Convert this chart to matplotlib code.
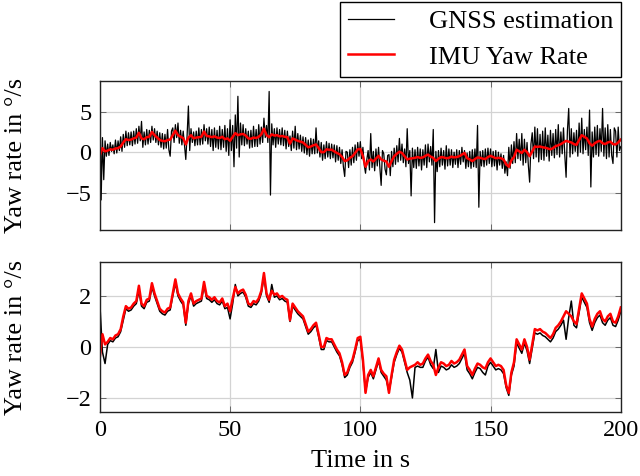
import numpy as np
import matplotlib
matplotlib.use('Agg')
import matplotlib.pyplot as plt

plt.rcParams['font.family'] = ['Liberation Serif', 'DejaVu Serif']

# IMU yaw rate, 1 s steps (same signal in both panels)
t_imu = np.arange(0, 201, 1)
imu = [-0.4, 0.5, 0.1, 0.2, 0.35, 0.3, 0.45, 0.5, 0.7, 1.2,
       1.6, 1.5, 1.55, 1.7, 1.8, 2.4, 1.7, 1.6, 1.85, 1.9,
       2.5, 2.1, 1.8, 1.5, 1.4, 1.35, 1.5, 1.55, 2.1, 2.65,
       2.1, 1.9, 1.75, 0.95, 1.8, 2.1, 1.7, 1.8, 1.85, 1.9,
       2.55, 2.0, 1.95, 1.85, 1.95, 1.8, 1.75, 1.9, 1.6, 1.7,
       1.4, 1.9, 2.35, 2.1, 2.2, 2.25, 2.05, 1.7, 1.65, 1.8,
       1.75, 1.9, 2.2, 2.9, 2.1, 1.85, 2.2, 2.05, 2.1, 1.95,
       2.0, 1.9, 1.85, 1.05, 1.7, 1.55, 1.4, 1.3, 1.2, 0.9,
       0.6, 0.7, 0.85, 0.95, 0.5, 0.0, 0.0, 0.35, 0.3, 0.3,
       0.1, -0.1, -0.25, -0.6, -1.1, -1.0, -0.7, -0.5, -0.1, 0.35,
       0.4, -0.5, -1.8, -1.1, -0.9, -1.15, -0.8, -0.45, -0.9, -1.05,
       -1.15, -1.8, -1.1, -0.5, -0.2, 0.05, -0.1, -0.5, -0.9, -0.8,
       -0.75, -0.7, -0.6, -0.7, -0.65, -0.45, -0.3, -0.55, -0.7, -1.1,
       -0.8, -0.6, -0.65, -0.75, -0.7, -0.55, -0.65, -0.6, -0.5, -0.3,
       -0.1, -0.75, -0.9, -1.1, -0.85, -0.65, -0.7, -0.8, -0.85, -0.6,
       -0.45, -0.6, -0.75, -0.7, -0.75, -0.9, -1.5, -1.8, -1.0, -0.6,
       0.3, 0.1, -0.1, 0.3, 0.0, -0.5, 0.1, 0.7, 0.65, 0.7,
       0.6, 0.55, 0.45, 0.35, 0.5, 0.75, 0.85, 1.0, 1.2, 1.4,
       1.3, 1.2, 1.0, 0.9, 1.5, 2.1, 1.9, 1.7, 1.1, 0.8,
       1.1, 1.3, 1.4, 1.1, 1.0, 1.2, 1.3, 1.0, 0.95, 1.2,
       1.55]

# raw GNSS estimate (top panel), 0.5 s steps, one row of pairs per 5 s
t_gnss_raw = np.arange(0, 200.5, 0.5)
gnss_raw = [7.6, -5.9, 1.8, -3.4, 1.4, -0.5, 1.0, -0.4, 1.2, 0.1,
            0.9, -0.2, 1.5, -0.1, 1.4, 0.2, 1.9, 0.1, 2.2, 0.6,
            2.6, 0.8, 2.4, 0.9, 2.5, 0.8, 2.6, 1.0, 2.9, 1.1,
            3.2, 1.4, 3.8, 0.6, 2.5, 0.9, 2.8, 1.0, 2.7, 1.2,
            3.2, 1.5, 2.9, 1.2, 2.6, 0.9, 2.4, 0.6, 2.3, 0.4,
            2.2, 0.5, 2.8, 0.3, -0.5, 2.6, 3.0, 1.2, 3.4, 1.8,
            3.6, 1.1, 2.7, 0.9, 2.6, 0.8, -0.9, 2.1, 5.7, 0.2,
            2.9, 1.2, 2.5, 0.8, 2.6, 0.9, 3.0, 0.9, 2.8, 1.0,
            3.4, 1.4, 2.9, 1.0, 3.1, 0.7, 2.8, 0.2, 3.0, 0.6,
            2.7, 0.4, 3.2, 0.3, 2.8, 0.6, 3.3, 0.1, 2.9, -0.4,
            4.0, 0.2, 3.3, -1.8, 4.6, 0.5, 6.9, -0.6, 3.6, 0.9,
            3.4, 0.8, 2.9, 1.0, 2.6, 0.5, 2.7, 0.6, 3.2, 0.7,
            2.8, 0.7, 3.4, 1.0, 3.1, 1.2, 4.2, 1.8, 3.3, 1.2,
            7.5, -5.3, 3.5, 0.9, 2.9, 0.6, 3.0, 1.0, 2.8, 0.9,
            3.0, 0.8, 2.7, 0.4, 2.6, 0.7, 2.0, 0.2, 2.6, 0.5,
            3.2, 0.3, 2.3, 0.4, 2.1, 0.1, 1.9, -0.1, 1.8, -0.3,
            1.5, -0.5, 1.7, -0.2, 1.6, -0.2, 3.0, -0.1, 1.4, -0.6,
            1.2, -1.0, 0.9, -0.8, 1.3, -0.6, 1.1, -0.8, 1.0, -0.7,
            0.9, -1.2, 0.8, -1.0, 0.6, -1.4, 0.3, -1.8, -3.0, 0.1,
            0.0, -1.9, 0.3, -1.6, 0.6, -1.3, 0.9, -1.0, 1.2, -0.5,
            1.3, -0.8, 0.6, -1.6, -2.6, -0.9, 0.2, -2.2, 2.3, -1.9,
            0.1, -2.3, 0.4, -1.7, 0.6, -1.9, -4.1, 0.2, -0.2, -2.1,
            -2.8, -0.4, -0.3, -2.9, 0.1, -1.8, 0.5, -1.5, 0.8, -1.2,
            1.7, -1.0, 1.0, -1.3, 0.4, -1.8, 2.9, -1.4, 0.2, -5.4,
            0.5, -1.9, 0.3, -2.0, 0.6, -1.7, 0.4, -2.2, 0.3, -1.6,
            0.9, -1.9, 1.0, -1.2, 0.7, -1.6, 2.8, -8.7, 0.1, -2.4,
            0.2, -1.8, 0.5, -1.6, 0.2, -2.1, 0.8, -1.7, 0.4, -1.6,
            0.3, -1.9, 0.0, -1.5, 0.3, -1.9, 0.2, -1.5, 0.6, -1.2,
            0.2, -2.0, -0.1, -1.8, 0.1, -2.0, 0.3, -1.8, 0.4, -1.9,
            3.3, -6.8, 0.1, -1.7, 0.2, -1.8, 0.4, -1.6, 0.5, -1.4,
            0.4, -1.8, 0.1, -1.7, 0.2, -2.2, 0.0, -1.6, -0.2, -2.0,
            -0.4, -2.6, -1.2, -2.9, 0.6, -2.0, 0.9, -1.4, 1.3, -1.3,
            2.3, -0.8, 1.6, -1.0, 2.3, -1.6, 1.6, -1.3, 1.2, -1.6,
            -3.7, 1.0, 2.4, -0.8, 3.1, -0.6, 2.9, -1.2, 2.2, -0.9,
            2.6, -1.0, 3.0, -0.5, 2.1, -1.1, 2.7, -0.4, 2.3, -0.7,
            2.8, -0.3, 3.4, -0.6, 2.5, -0.2, 3.0, -0.4, -3.1, 2.6,
            5.4, -0.6, 2.9, -0.2, 2.4, 0.1, 2.7, -0.5, 3.6, 0.0,
            4.2, -0.2, 2.8, 0.3, 3.1, -0.4, 5.2, -4.3, 2.5, -0.6,
            3.1, -0.3, 3.3, -0.5, 2.9, 0.1, 5.4, -0.5, 3.0, -0.8,
            3.4, -0.6, 2.8, -0.4, -1.4, 3.0, 2.6, -0.6, 3.1, 0.2,
            0.7]

# filtered GNSS estimate (bottom panel), 1 s steps
t_gnss_filt = np.arange(0, 201, 1)
gnss_filt = [1.7, -0.2, -0.65, 0.1, 0.25, 0.2, 0.35, 0.4, 0.6, 1.05,
             1.5, 1.4, 1.45, 1.6, 1.7, 2.2, 1.6, 1.5, 1.75, 1.8,
             2.35, 2.0, 1.7, 1.4, 1.3, 1.25, 1.4, 1.45, 2.0, 2.5,
             2.0, 1.8, 1.65, 0.85, 1.7, 2.0, 1.6, 1.7, 1.75, 1.8,
             2.4, 1.9, 1.85, 1.75, 1.85, 1.7, 1.65, 1.8, 1.5, 1.55,
             1.1, 1.7, 2.45, 2.0, 2.1, 2.15, 1.95, 1.6, 1.55, 1.7,
             1.65, 1.8, 2.1, 2.75, 2.0, 1.75, 2.45, 1.95, 2.0, 1.85,
             1.9, 1.8, 1.75, 1.0, 1.6, 1.45, 1.3, 1.2, 1.1, 0.8,
             0.5, 0.6, 0.75, 0.85, 0.4, -0.1, -0.1, 0.25, 0.2, 0.2,
             0.0, -0.2, -0.35, -0.7, -1.2, -1.1, -0.8, -0.6, -0.2, 0.25,
             0.3, -0.6, -1.75, -1.2, -1.0, -1.25, -0.9, -0.55, -1.0, -1.15,
             -1.3, -1.75, -1.2, -0.6, -0.3, -0.05, -0.2, -0.6, -1.0, -1.3,
             -2.0, -0.8, -0.75, -0.8, -0.8, -0.55, -0.4, -0.7, -0.85, -0.1,
             -1.0, -0.75, -0.8, -0.9, -0.85, -0.7, -0.8, -0.75, -0.65, -0.45,
             -0.25, -0.9, -1.05, -1.25, -1.0, -0.8, -0.85, -1.0, -1.1, -0.75,
             -0.6, -0.75, -0.9, -0.85, -0.9, -1.05, -1.6, -1.9, -1.1, -0.75,
             0.15, -0.05, -0.25, 0.15, -0.15, -0.65, -0.05, 0.55, 0.5, 0.55,
             0.45, 0.4, 0.3, 0.2, 0.35, 0.6, 0.7, 0.85, 1.05, 0.3,
             1.15, 1.8, 0.85, 0.75, 1.35, 1.95, 1.75, 1.55, 0.95, 0.65,
             0.95, 1.15, 1.25, 0.95, 0.85, 1.05, 1.15, 0.85, 0.8, 1.05,
             1.4]

fig = plt.figure(figsize=(6.4, 4.76), dpi=100)
ax1 = fig.add_axes([0.156, 0.517, 0.814, 0.313])
ax2 = fig.add_axes([0.156, 0.1345, 0.814, 0.315])

ax1.plot(t_gnss_raw, gnss_raw, color='black', lw=0.9, label='GNSS estimation')
ax1.plot(t_imu, imu, color='red', lw=1.8, label='IMU Yaw Rate')
ax2.plot(t_gnss_filt, gnss_filt, color='black', lw=1.1)
ax2.plot(t_imu, imu, color='red', lw=1.8)

ax1.set_ylim(-9.6, 8.8)
ax1.set_yticks([-5, 0, 5])
ax2.set_ylim(-2.55, 3.33)
ax2.set_yticks([-2, 0, 2])

for ax in (ax1, ax2):
    ax.set_xlim(0, 200)
    ax.set_xticks([0, 50, 100, 150, 200])
    ax.grid(True, color='#d3d3d3', lw=0.9)
    ax.set_axisbelow(True)
    ax.tick_params(direction='in', length=4, width=0.6, color='#555555',
                   labelsize=17.5, top=True, right=True, pad=6)
    for s in ax.spines.values():
        s.set_linewidth(1.0)
        s.set_color('#222222')
    ax.set_ylabel('Yaw rate in °/s', fontsize=19)
    ax.yaxis.set_label_coords(-0.14, 0.5)

ax1.tick_params(labelbottom=False)
ax2.set_xlabel('Time in s', fontsize=19)
ax2.xaxis.set_label_coords(0.5, -0.255)

fig.legend(loc='upper right', bbox_to_anchor=(0.970, 0.996), fontsize=19,
           frameon=True, fancybox=False, edgecolor='black', framealpha=1,
           borderaxespad=0, handlelength=1.75, handletextpad=1.3,
           borderpad=0.3, labelspacing=0.45)

fig.savefig('out.png', dpi=100)
